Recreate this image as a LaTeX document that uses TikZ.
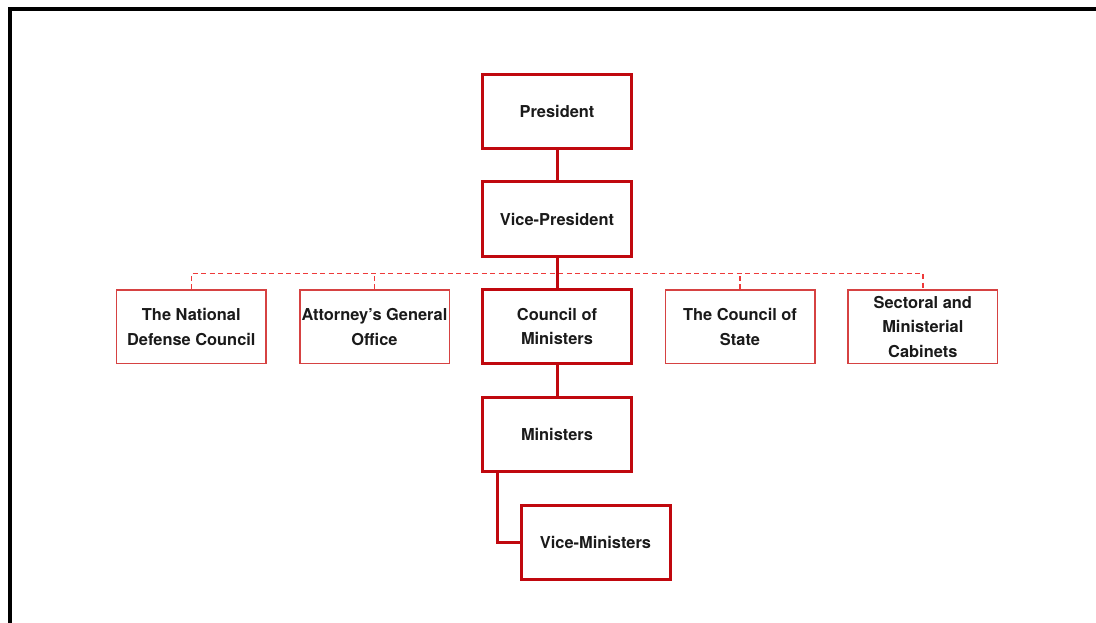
\documentclass[tikz,border=0pt]{standalone}
\usepackage{fontspec}
\setmainfont{TeX Gyre Heros}
\definecolor{boldred}{RGB}{192,8,14}
\definecolor{softred}{RGB}{214,66,66}
\definecolor{dashred}{RGB}{238,58,58}
\definecolor{inktext}{RGB}{26,26,26}
\begin{document}
\begin{tikzpicture}[x=1pt,y=-1pt,
  mainbox/.style={draw=boldred, line width=3pt, fill=white,
    minimum width=149pt, minimum height=74pt, inner sep=0pt,
    align=center, text=inktext, font=\fontsize{16.4}{24.5}\selectfont\bfseries},
  sidebox/.style={draw=softred, line width=1.5pt, fill=white,
    minimum width=149.5pt, minimum height=73.5pt, inner sep=0pt,
    align=center, text=inktext, font=\fontsize{16.4}{24.5}\selectfont\bfseries},
  solidlink/.style={draw=boldred, line width=3pt},
  dashlink/.style={draw=dashred, line width=1.5pt, dash pattern=on 5pt off 3.5pt}]
  \useasboundingbox (0,0) rectangle (1096,623);
  % outer frame (left and top edges)
  \draw[line width=4pt, line join=miter] (10,623) -- (10,8.7) -- (1096,8.7);

  % main chain
  \node[mainbox] (pres) at (557,111.5) {President};
  \node[mainbox] (vp)   at (557,219)   {Vice-President};
  \node[mainbox] (com)  at (557,326.5) {Council of\\Ministers};
  \node[mainbox] (min)  at (557,434)   {Ministers};
  \node[mainbox] (vmin) at (595.5,542) {Vice-Ministers};

  % advisory bodies
  \node[sidebox] (ndc) at (191.3,326.8) {The National\\Defense Council};
  \node[sidebox] (ago) at (374.5,326.8) {Attorney’s General\\Office};
  \node[sidebox] (cos) at (740,326.8)   {The Council of\\State};
  \node[sidebox] (sec) at (922.8,326.8) {Sectoral and\\Ministerial\\Cabinets};

  % dashed bus to the advisory bodies
  \coordinate (bus) at (557,273.5);
  \draw[dashlink] (ndc.north) |- (bus) -| (sec.north);
  \draw[dashlink] (ago.north) -- (ago.north |- bus);
  \draw[dashlink] (cos.north) -- (cos.north |- bus);

  % solid reporting lines
  \draw[solidlink] (pres.south) -- (vp.north);
  \draw[solidlink] (vp.south) -- (com.north);
  \draw[solidlink] (com.south) -- (min.north);
  \draw[solidlink] ([xshift=16pt]min.south west) |- (vmin.west);
\end{tikzpicture}
\end{document}
